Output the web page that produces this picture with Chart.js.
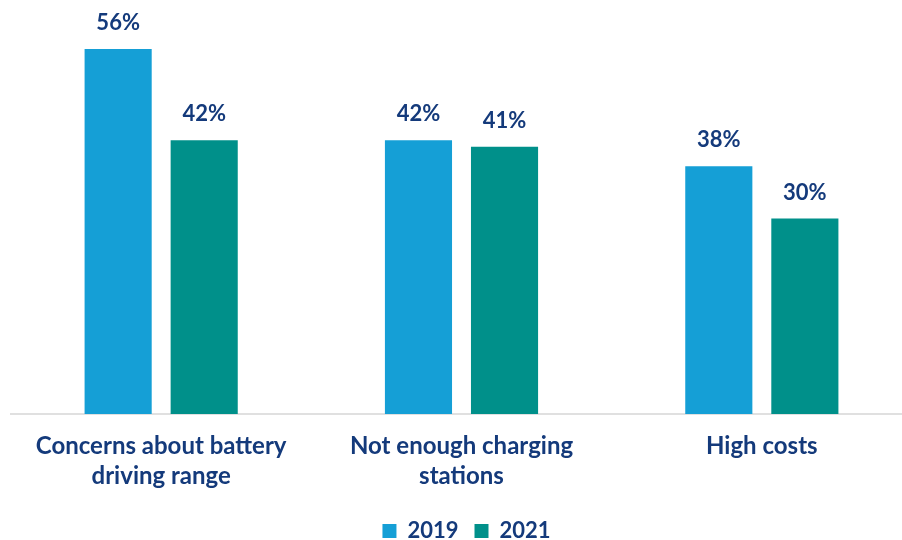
<!DOCTYPE html>
<html>
<head>
<meta charset="utf-8">
<script src="https://cdn.jsdelivr.net/npm/chart.js@4/dist/chart.umd.min.js"></script>
<style>
html,body{margin:0;padding:0;background:#fff;overflow:hidden;width:902px;height:540px;}
#wrap{position:absolute;left:0;top:0;width:922px;height:540px;}
</style>
</head>
<body>
<div id="wrap"><canvas id="c" width="922" height="540"></canvas></div>
<script>
const categories = [["Concerns about battery","driving range"],["Not enough charging","stations"],["High costs"]];
const seriesNames = ["2019","2021"];
const values2019 = [56, 42, 38];
const values2021 = [42, 41, 30];

const NAVY = "#143a7b";
const FONT = "Lato, 'Open Sans', sans-serif";

const valueLabels = {
  id: "valueLabels",
  afterDatasetsDraw(chart) {
    const ctx = chart.ctx;
    ctx.save();
    ctx.fillStyle = NAVY;
    ctx.font = "bold 22px " + FONT;
    ctx.textAlign = "center";
    ctx.textBaseline = "middle";
    chart.data.datasets.forEach((ds, i) => {
      chart.getDatasetMeta(i).data.forEach((bar, j) => {
        ctx.fillText(ds.data[j] + "%", bar.x, bar.y - 26);
      });
    });
    ctx.restore();
  }
};

const legendHeight = {
  id: "legendHeight",
  afterInit(chart) {
    const lg = chart.legend;
    if (!lg) return;
    const orig = lg.fit;
    lg.fit = function () { orig.call(this); this.height = 36; };
  }
};

new Chart(document.getElementById("c"), {
  type: "bar",
  data: {
    labels: categories,
    datasets: [
      {label: seriesNames[0], data: values2019, backgroundColor: "#159fd6", categoryPercentage: 0.573, barPercentage: 0.78},
      {label: seriesNames[1], data: values2021, backgroundColor: "#00908a", categoryPercentage: 0.573, barPercentage: 0.78}
    ]
  },
  options: {
    responsive: false,
    animation: false,
    layout: {padding: {left: 11, right: 0, top: 23, bottom: 0}},
    scales: {
      y: {
        display: true, position: "right", min: 0, max: 60,
        ticks: {display: false}, grid: {display: false, drawTicks: false}, border: {display: false},
        afterFit(scale) { scale.width = 10; }
      },
      x: {
        grid: {display: false, drawTicks: false},
        border: {display: true, color: "#e0e0e0", width: 2},
        ticks: {color: NAVY, font: {family: FONT, size: 24, weight: "bold", lineHeight: 1.22}, padding: 18, maxRotation: 0, autoSkip: false},
        afterFit(scale) { scale.height = 90; }
      }
    },
    plugins: {
      tooltip: {enabled: false},
      legend: {
        position: "bottom",
        labels: {
          color: NAVY,
          font: {family: FONT, size: 22, weight: "bold"},
          boxWidth: 14, boxHeight: 14, padding: 16
        }
      }
    }
  },
  plugins: [valueLabels, legendHeight]
});
</script>
</body>
</html>
